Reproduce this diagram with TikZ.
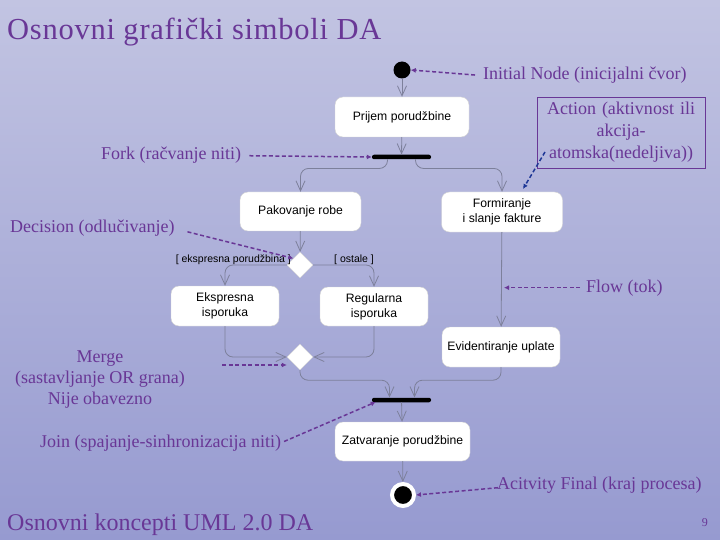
\documentclass[tikz,border=0pt]{standalone}
\usepackage{fontspec}
\setmainfont{Liberation Serif}
\newfontfamily\boxfont{Liberation Sans}
\newfontfamily\titlefont[LetterSpace=2.5]{Liberation Serif}
\usetikzlibrary{arrows.meta,shapes.geometric,calc}
\definecolor{lbl}{RGB}{105,55,150}
\definecolor{bgtop}{RGB}{194,196,226}
\definecolor{bgbot}{RGB}{150,154,208}
\definecolor{conn}{RGB}{125,128,155}
\definecolor{actarrow}{RGB}{30,55,150}
\begin{document}
\begin{tikzpicture}[x=1pt,y=-1pt,
  act/.style={draw=gray!35, fill=white, rounded corners=8pt, align=center, inner sep=0pt,
    font=\boxfont\fontsize{12.2}{15}\selectfont},
  conn/.style={draw=conn, line width=0.8pt, -{Straight Barb[length=10pt,width=9pt]}},
  bar/.style={fill=black, inner sep=0pt, minimum width=59pt, minimum height=4.5pt, rounded corners=2pt},
  dia/.style={diamond, draw=gray!35, fill=white, inner sep=0pt, minimum width=26pt, minimum height=26pt},
  lbltext/.style={text=lbl, inner sep=0pt, font=\fontsize{18}{22}\selectfont},
  lblarrow/.style={draw=lbl, dash pattern=on 4pt off 2.5pt, line width=1.5pt, -{Latex[length=5pt,width=5pt]}},
  guard/.style={inner sep=0pt, font=\boxfont\fontsize{10.5}{12}\selectfont}
]
\useasboundingbox (0,0) rectangle (720,540);
\shade[top color=bgtop, bottom color=bgbot] (0,0) rectangle (720,540);

% title and footer
\node[anchor=base west, text=lbl, inner sep=0pt, font=\titlefont\fontsize{30.5}{32}\selectfont] (title) at (7,40) {Osnovni grafički simboli DA};
\node[anchor=base west, text=lbl, inner sep=0pt, font=\fontsize{24}{26}\selectfont] (footer) at (7,530) {Osnovni koncepti UML 2.0 DA};
\node[anchor=base east, text=lbl, inner sep=0pt, font=\fontsize{12}{14}\selectfont] (pagenum) at (708,526) {9};

% diagram nodes
\node[circle, fill=black, inner sep=0pt, minimum size=17pt] (init) at (402,70) {};
\node[act, minimum width=134pt, minimum height=40pt] (prijem) at (402,117) {Prijem porudžbine};
\node[bar] (fork) at (401.5,157) {};
\node[act, minimum width=121pt, minimum height=39pt] (pak) at (300.5,211.5) {Pakovanje robe};
\node[act, minimum width=121pt, minimum height=40pt] (form) at (502,212) {Formiranje\\i slanje fakture};
\node[dia] (dec) at (300,265) {};
\node[act, minimum width=108pt, minimum height=40pt] (eksp) at (225,306) {Ekspresna\\isporuka};
\node[act, minimum width=108pt, minimum height=39pt] (reg) at (374,306.5) {Regularna\\isporuka};
\node[dia] (merge) at (300,357) {};
\node[act, minimum width=118pt, minimum height=40pt] (evid) at (501,347) {Evidentiranje uplate};
\node[bar] (join) at (401.5,400) {};
\node[act, minimum width=135pt, minimum height=39pt] (zatv) at (402.5,441.5) {Zatvaranje porudžbine};
\node[circle, fill=black, draw=white, line width=4pt, inner sep=0pt, minimum size=22pt] (final) at (403,495) {};

% guards
\node[guard, anchor=base east] (g1) at (291,262) {[ ekspresna porudžbina ]};
\node[guard, anchor=base west] (g2) at (334,262) {[ ostale ]};

% connectors
\draw[conn] (init) -- (prijem);
\draw[conn] (prijem) -- (fork);
\draw[conn, rounded corners=8pt] ([xshift=-14pt]fork.south) -- ++(0,9) -| (pak.north);
\draw[conn, rounded corners=8pt] ([xshift=14pt]fork.south) -- ++(0,9) -| (form.north);
\draw[conn] (pak) -- (dec);
\draw[conn, rounded corners=8pt] (dec.west) -| (eksp.north);
\draw[conn, rounded corners=8pt] (dec.east) -| (reg.north);
\draw[conn, rounded corners=8pt] (eksp.south) |- (merge.west);
\draw[conn, rounded corners=8pt] (reg.south) |- (merge.east);
\draw[conn] (form) -- (evid);
\draw[conn, rounded corners=8pt] (merge.south) -- ++(0,10) -| ([xshift=-12pt]join.north);
\draw[conn, rounded corners=8pt] (evid.south) -- ++(0,13) -| ([xshift=13pt]join.north);
\draw[conn] (join) -- (zatv);
\draw[conn] (zatv) -- (final);

% annotation labels
\node[lbltext, anchor=base west] (initlbl) at (483,80) {Initial Node (inicijalni čvor)};
\node[lbltext, anchor=base west] (forklbl) at (101,160) {Fork (račvanje niti)};
\node[lbltext, anchor=base west] (declbl) at (10,233) {Decision (odlučivanje)};
\node[lbltext, anchor=base west] (flowlbl) at (586,292) {Flow (tok)};
\node[lbltext, align=center, anchor=north, font=\fontsize{18}{21}\selectfont] (mergelbl) at (100,351) {Merge\\(sastavljanje OR grana)\\Nije obavezno};
\node[lbltext, anchor=base west] (joinlbl) at (40,447) {Join (spajanje-sinhronizacija niti)};
\node[lbltext, anchor=base west] (finallbl) at (497,489) {Acitvity Final\ (kraj procesa)};
\node[lbltext, draw=lbl, line width=0.6pt, align=center, minimum width=168pt, minimum height=71pt, text width=164pt] (actlbl) at (621,132.5) {Action (aktivnost ili\\akcija-\\atomska(nedeljiva))};

% annotation arrows
\coordinate (actstart) at (545,152);
\coordinate (actend) at (523,189);
\coordinate (mergestart) at (222,365);
\draw[lblarrow, shorten <=8pt] (initlbl.west) -- (init.east);
\draw[lblarrow, shorten <=8pt] (forklbl.east) -- (fork.west);
\draw[lblarrow, shorten <=13pt] (declbl.east) -- (dec.north west);
\draw[lblarrow, shorten <=6pt] (flowlbl.west) -- ([xshift=2pt]form.south |- flowlbl.west);
\draw[lblarrow] (mergestart) -- ([yshift=-8pt]merge.west);
\draw[lblarrow, shorten <=3pt] (joinlbl.east) -- ([xshift=4pt,yshift=-2pt]join.west);
\draw[lblarrow] ([xshift=1pt,yshift=-3pt]finallbl.west) -- (final.east);
\draw[draw=actarrow, dash pattern=on 4pt off 2.5pt, line width=1.5pt, -{Latex[length=5pt,width=5pt]}] (actstart) -- (actend);
\end{tikzpicture}
\end{document}
